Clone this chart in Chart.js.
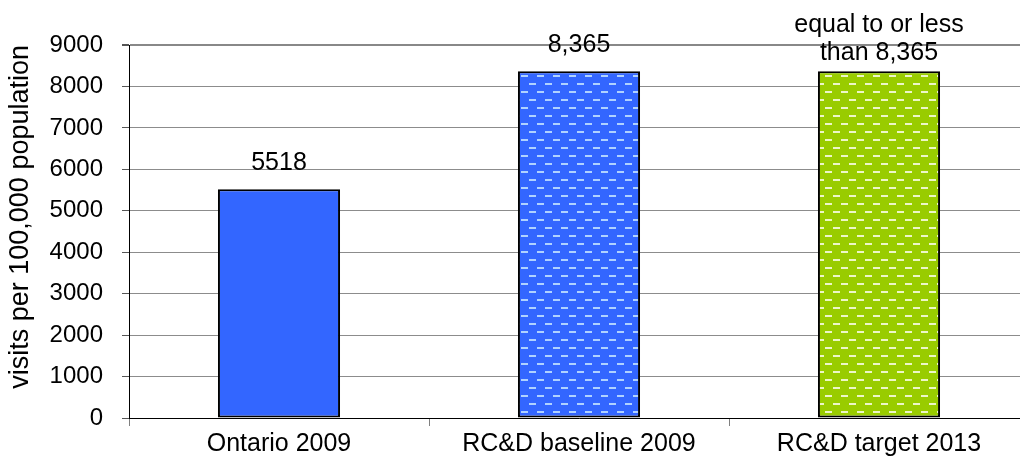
<!DOCTYPE html>
<html>
<head>
<meta charset="utf-8">
<title>visits per 100,000 population</title>
<script src="https://cdn.jsdelivr.net/npm/chart.js@4"></script>
<style>
  html, body { margin: 0; padding: 0; background: #fff; overflow: hidden; }
  #wrap { width: 1040px; height: 461px; }
</style>
</head>
<body>
<div id="wrap"><canvas id="visitsChart" width="1040" height="461"></canvas></div>
<script>
// --- data ---
const categories = ['Ontario 2009', 'RC&D baseline 2009', 'RC&D target 2013'];
const visits = [5518, 8365, 8365];
const valueLabels = [['5518'], ['8,365'], ['equal to or less', 'than 8,365']];
const yTicks = [0, 1000, 2000, 3000, 4000, 5000, 6000, 7000, 8000, 9000];

const FONT = '"Liberation Sans", Arial, sans-serif';
Chart.defaults.font.family = FONT;
Chart.defaults.color = '#000';

// small repeating tile of horizontal dashes, rows offset every other line
function dashPattern(base, dash) {
    const tile = document.createElement('canvas');
    tile.width = 16;
    tile.height = 16;
    const c = tile.getContext('2d');
    c.fillStyle = base;
    c.fillRect(0, 0, 16, 16);
    c.fillStyle = dash;
    c.fillRect(1, 3, 7, 2);
    c.fillRect(9, 11, 7, 2);
    return c.createPattern(tile, 'repeat');
}

const barFills = [
    '#3366FF',
    dashPattern('#3366FF', '#B0D2FF'),
    dashPattern('#99CC00', '#EDF6C8')
];

// text above each bar, drawn at the bar's own position
const valueLabelPlugin = {
    id: 'valueLabels',
    afterDatasetsDraw(chart) {
        const ctx = chart.ctx;
        const meta = chart.getDatasetMeta(0);
        ctx.save();
        ctx.font = '25px ' + FONT;
        ctx.fillStyle = '#000';
        ctx.textAlign = 'center';
        ctx.textBaseline = 'middle';
        meta.data.forEach((bar, i) => {
            const lines = valueLabels[i];
            const lastOffset = lines.length > 1 ? 18 : 26;
            lines.forEach((line, j) => {
                const y = bar.y - lastOffset - (lines.length - 1 - j) * 28;
                ctx.fillText(line, bar.x, y);
            });
        });
        ctx.restore();
    }
};

new Chart(document.getElementById('visitsChart'), {
    type: 'bar',
    data: {
        labels: categories,
        datasets: [{
            data: visits,
            backgroundColor: barFills,
            borderColor: '#000',
            borderWidth: 2,
            borderSkipped: false,
            categoryPercentage: 1,
            barPercentage: 0.407
        }]
    },
    options: {
        responsive: false,
        animation: false,
        layout: { padding: { top: 45, right: 11, left: 0, bottom: 0 } },
        plugins: {
            legend: { display: false },
            tooltip: { enabled: false }
        },
        scales: {
            x: {
                grid: { offset: true, drawOnChartArea: false, tickLength: 8, tickColor: '#808080' },
                border: { color: '#000', width: 1 },
                ticks: { color: '#000', font: { size: 25 }, padding: 3 },
                afterFit(scale) { scale.height = 43; }
            },
            y: {
                min: 0,
                max: 9000,
                afterBuildTicks(scale) { scale.ticks = yTicks.map(v => ({ value: v })); },
                grid: {
                    color: ctx => ctx.tick && ctx.tick.value === 9000 ? '#888' : '#8c8c8c',
                    lineWidth: ctx => ctx.tick && ctx.tick.value === 9000 ? 2 : 1,
                    tickLength: 7,
                    tickColor: '#555'
                },
                border: { color: '#000', width: 1 },
                ticks: {
                    color: '#000',
                    font: { size: 24 },
                    padding: 19,
                    callback: value => String(value)
                },
                title: {
                    display: true,
                    text: 'visits per 100,000 population',
                    align: 'end',
                    color: '#000',
                    font: { size: 27 },
                    padding: { top: 4, bottom: 0 }
                },
                afterFit(scale) { scale.width = 129; }
            }
        }
    },
    plugins: [valueLabelPlugin]
});
</script>
</body>
</html>
